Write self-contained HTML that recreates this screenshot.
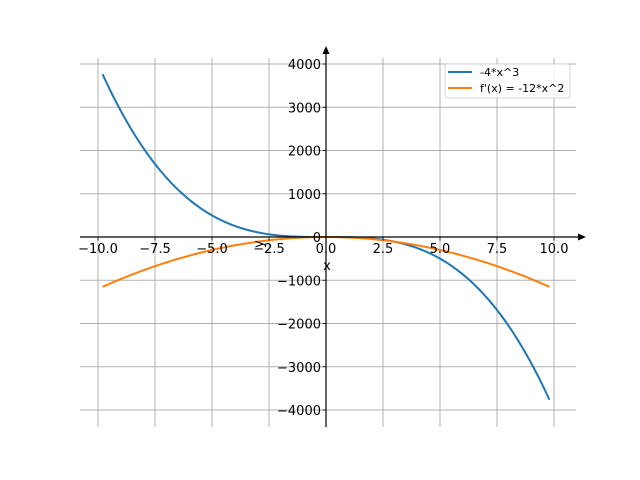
<!DOCTYPE html>
<html><head><style>body{margin:0;background:#fff}svg{display:block}text{font-family:"DejaVu Sans","Liberation Sans",sans-serif;font-size:13px;fill:#000}</style></head>
<body>
<svg id="s" width="640" height="480" xmlns="http://www.w3.org/2000/svg">
<g id="grid" stroke="#b0b0b0" stroke-width="1"></g>
<g id="curves" fill="none" stroke-width="2"></g>
<line x1="80" y1="237" x2="580" y2="237" stroke="#000" stroke-width="1.2"/>
<polygon points="586,237 578,233.5 578,240.5" fill="#000"/>
<line x1="326" y1="427" x2="326" y2="52" stroke="#000" stroke-width="1.2"/>
<polygon points="326,46 322.5,54 329.5,54" fill="#000"/>
<g id="labels"></g>
<text x="327" y="270" text-anchor="middle">x</text>
<text transform="translate(263,244) rotate(-90)" text-anchor="middle">y</text>
<rect x="445" y="64" width="125" height="34" fill="#fff" fill-opacity="0.8" stroke="#ccc" stroke-width="0.8" rx="2"/>
<line x1="448" y1="72" x2="472" y2="72" stroke="#1f77b4" stroke-width="2"/>
<text x="480" y="76" style="font-size:11px">-4*x^3</text>
<line x1="448" y1="88" x2="472" y2="88" stroke="#ff7f0e" stroke-width="2"/>
<text x="480" y="92" style="font-size:11px">f'(x) = -12*x^2</text>
</svg>
<script>
var X=v=>326+22.8*v, Y=v=>237-v*0.04325;
var g=document.getElementById('grid'),l=document.getElementById('labels'),c=document.getElementById('curves'),h='',t='';
for(var v=-10;v<=10;v+=2.5){var x=X(v);h+='<line x1="'+x+'" y1="58" x2="'+x+'" y2="427"/>';
t+='<line x1="'+x+'" y1="237" x2="'+x+'" y2="240.5" stroke="#000" stroke-width="0.8"/><text x="'+x+'" y="253" text-anchor="middle">'+(v<0?'\u2212':'')+Math.abs(v).toFixed(1)+'</text>';}
for(var v=-4000;v<=4000;v+=1000){var y=Y(v);h+='<line x1="80" y1="'+y+'" x2="576" y2="'+y+'"/>';
t+='<line x1="322.5" y1="'+y+'" x2="326" y2="'+y+'" stroke="#000" stroke-width="0.8"/><text x="321" y="'+(y+5)+'" text-anchor="end">'+(v<0?'\u2212':'')+Math.abs(v)+'</text>';}
g.innerHTML=h;l.innerHTML=t;
var a='',b='';for(var i=0;i<=200;i++){var x=-9.8+19.6*i/200;a+=(i?'L':'M')+X(x).toFixed(2)+','+Y(-4*x*x*x).toFixed(2);b+=(i?'L':'M')+X(x).toFixed(2)+','+Y(-12*x*x).toFixed(2);}
c.innerHTML='<path d="'+a+'" stroke="#1f77b4"/><path d="'+b+'" stroke="#ff7f0e"/>';
</script>
</body></html>
